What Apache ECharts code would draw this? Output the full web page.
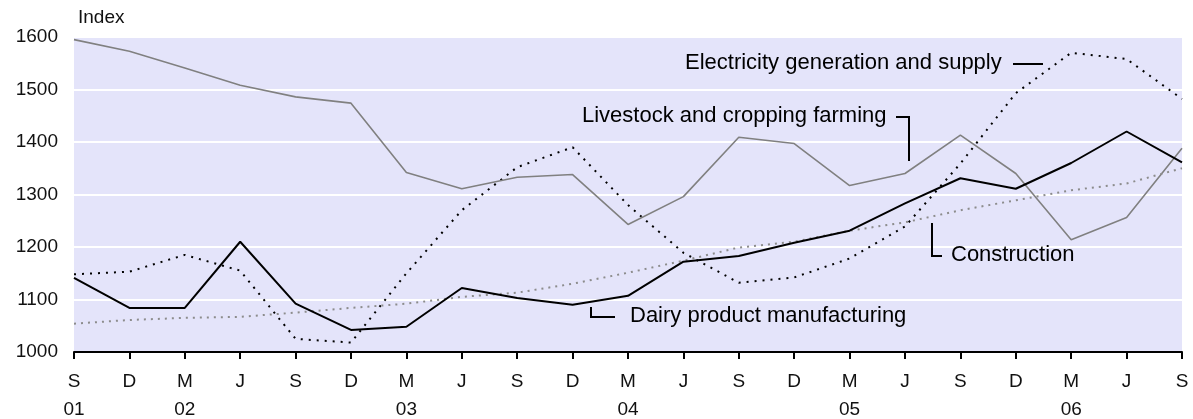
<!DOCTYPE html>
<html>
<head>
<meta charset="utf-8">
<script src="https://cdn.jsdelivr.net/npm/echarts@6/dist/echarts.min.js"></script>
<style>
html, body { margin: 0; padding: 0; background: #fff; }
#main { width: 1193px; height: 419px; }
</style>
</head>
<body>
<div id="main"></div>
<script>
// quarters, Sep 2001 - Sep 2006
const months = ['S', 'D', 'M', 'J', 'S', 'D', 'M', 'J', 'S', 'D', 'M', 'J', 'S', 'D', 'M', 'J', 'S', 'D', 'M', 'J', 'S'];
const years = ['01', '', '02', '', '', '', '03', '', '', '', '04', '', '', '', '05', '', '', '', '06', '', ''];

// index values
const electricity = [1148, 1153, 1185, 1155, 1025, 1018, 1150, 1270, 1352, 1390, 1280, 1189, 1132, 1142, 1178, 1239, 1359, 1493, 1570, 1558, 1482];
const livestock = [1595, 1573, 1541, 1508, 1486, 1474, 1342, 1311, 1333, 1338, 1243, 1296, 1409, 1397, 1317, 1340, 1413, 1340, 1214, 1256, 1388];
const construction = [1054, 1061, 1065, 1067, 1075, 1084, 1092, 1105, 1113, 1130, 1151, 1174, 1199, 1210, 1231, 1247, 1270, 1289, 1308, 1321, 1350];
const dairy = [1141, 1084, 1084, 1210, 1092, 1042, 1048, 1122, 1103, 1090, 1107, 1172, 1183, 1208, 1231, 1283, 1331, 1311, 1360, 1420, 1361];

const font = 'Liberation Sans, Arial, sans-serif';
const categories = months.map((m, i) => i);

const dom = document.getElementById('main');
const myChart = echarts.init(dom);

// 注释文字
function note(text, x, y) {
	return {
		type: 'text',
		left: x,
		top: y,
		z: 100,
		style: { text: text, fill: '#000', font: '22px ' + font }
	};
}
// 引线
function seg(x1, y1, x2, y2) {
	return {
		type: 'line',
		z: 100,
		shape: { x1: x1, y1: y1, x2: x2, y2: y2 },
		style: { stroke: '#000', lineWidth: 2 }
	};
}

const option = {
	animation: false,
	grid: {
		left: 74, right: 11, top: 37, bottom: 67,
		outerBoundsMode: 'none',
		containLabel: false,
		show: true,
		backgroundColor: '#e4e4fa',
		borderWidth: 0
	},
	xAxis: {
		type: 'category',
		data: categories,
		boundaryGap: false,
		axisLine: { lineStyle: { color: '#000', width: 2 } },
		axisTick: { alignWithLabel: true, length: 7, lineStyle: { color: '#000', width: 2 } },
		axisLabel: {
			interval: 0,
			margin: 16,
			color: '#111',
			fontFamily: font,
			fontSize: 19,
			lineHeight: 28,
			formatter: function (v, i) {
				return months[i] + '\n' + years[i];
			}
		}
	},
	yAxis: {
		type: 'value',
		min: 1000,
		max: 1600,
		interval: 100,
		axisLine: { show: false },
		axisTick: { show: false },
		splitLine: { lineStyle: { color: '#fff', width: 2 } },
		axisLabel: {
			color: '#111', fontFamily: font, fontSize: 19, margin: 16,
			formatter: function (v) { return String(v); }
		}
	},
	series: [
		{
			name: 'Electricity generation and supply',
			type: 'line',
			data: electricity,
			symbol: 'none',
			lineStyle: { color: '#000', width: 2, type: [2, 6] }
		},
		{
			name: 'Livestock and cropping farming',
			type: 'line',
			data: livestock,
			symbol: 'none',
			lineStyle: { color: '#808080', width: 1.6 }
		},
		{
			name: 'Construction',
			type: 'line',
			data: construction,
			symbol: 'none',
			lineStyle: { color: '#8c8c8c', width: 2, type: [2, 5] }
		},
		{
			name: 'Dairy product manufacturing',
			type: 'line',
			data: dairy,
			symbol: 'none',
			lineStyle: { color: '#000', width: 2 }
		}
	],
	graphic: [
		{
			type: 'text', left: 78, top: 8,
			style: { text: 'Index', fill: '#111', font: '19px ' + font }
		},
		note('Electricity generation and supply', 685, 52),
		seg(1013, 64, 1043, 64),
		note('Livestock and cropping farming', 582, 105),
		seg(896, 117, 910, 117),
		seg(909, 117, 909, 161),
		note('Construction', 951, 244),
		seg(932, 223, 932, 257),
		seg(931, 256, 942, 256),
		note('Dairy product manufacturing', 630, 305),
		seg(591, 307, 591, 318),
		seg(590, 317, 615, 317)
	]
};

myChart.setOption(option);
</script>
</body>
</html>
